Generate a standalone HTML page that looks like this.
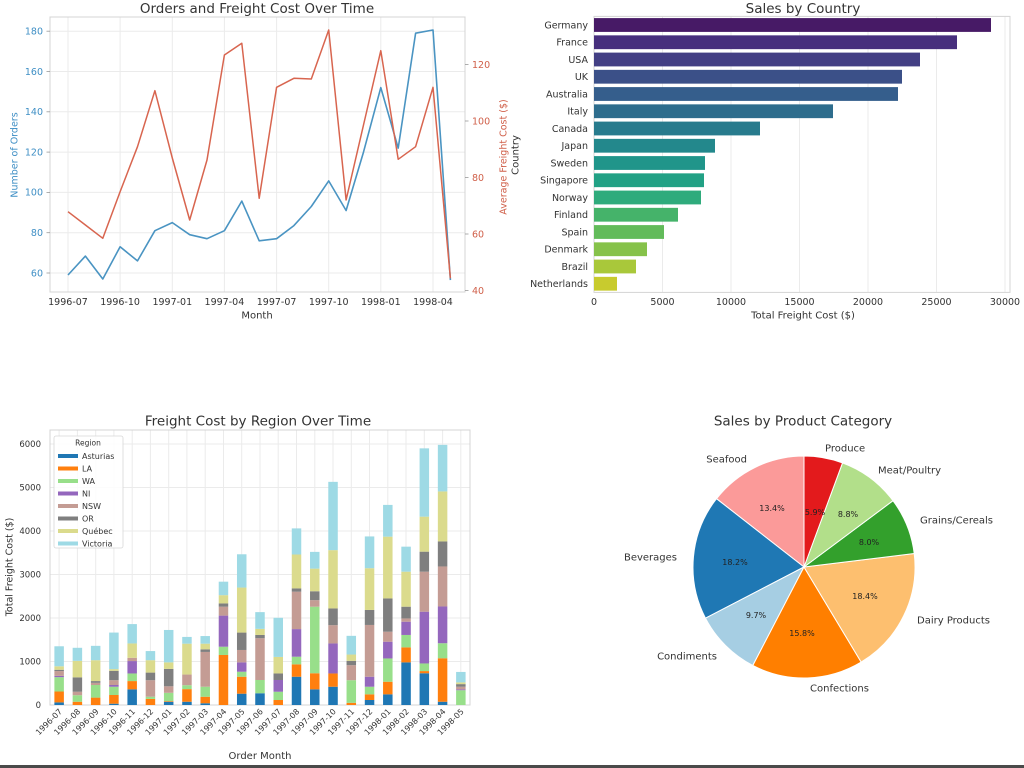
<!DOCTYPE html>
<html>
<head>
<meta charset="utf-8">
<style>
  html,body{margin:0;padding:0;background:#fff;}
  svg{display:block;}
  text{font-family:"DejaVu Sans","Liberation Sans",sans-serif;}
</style>
</head>
<body>
<svg width="1024" height="768" viewBox="0 0 1024 768" xmlns="http://www.w3.org/2000/svg">
<rect x="0" y="0" width="1024" height="768" fill="#fff"/>

<!-- ============ CHART 1: Orders and Freight Cost Over Time ============ -->
<g>
  <text x="257" y="13" font-size="13.5" text-anchor="middle" fill="#333">Orders and Freight Cost Over Time</text>
  <g stroke="#ebebeb" stroke-width="1">
    <line x1="50" x2="465" y1="31.2" y2="31.2"/>
    <line x1="50" x2="465" y1="71.5" y2="71.5"/>
    <line x1="50" x2="465" y1="111.8" y2="111.8"/>
    <line x1="50" x2="465" y1="152.1" y2="152.1"/>
    <line x1="50" x2="465" y1="192.4" y2="192.4"/>
    <line x1="50" x2="465" y1="232.7" y2="232.7"/>
    <line x1="50" x2="465" y1="273" y2="273"/>
    <line y1="17" y2="292" x1="68" x2="68"/>
    <line y1="17" y2="292" x1="120.1" x2="120.1"/>
    <line y1="17" y2="292" x1="172.3" x2="172.3"/>
    <line y1="17" y2="292" x1="224.4" x2="224.4"/>
    <line y1="17" y2="292" x1="276.6" x2="276.6"/>
    <line y1="17" y2="292" x1="328.7" x2="328.7"/>
    <line y1="17" y2="292" x1="380.8" x2="380.8"/>
    <line y1="17" y2="292" x1="433" x2="433"/>
  </g>
  <rect x="50" y="17" width="415" height="275" fill="none" stroke="#d4d4d4" stroke-width="1"/>
  <g stroke="#999" stroke-width="0.8">
    <line x1="46.5" x2="50" y1="31.2" y2="31.2"/><line x1="46.5" x2="50" y1="71.5" y2="71.5"/>
    <line x1="46.5" x2="50" y1="111.8" y2="111.8"/><line x1="46.5" x2="50" y1="152.1" y2="152.1"/>
    <line x1="46.5" x2="50" y1="192.4" y2="192.4"/><line x1="46.5" x2="50" y1="232.7" y2="232.7"/>
    <line x1="46.5" x2="50" y1="273" y2="273"/>
    <line x1="465" x2="468.5" y1="64.5" y2="64.5"/><line x1="465" x2="468.5" y1="121" y2="121"/>
    <line x1="465" x2="468.5" y1="177.5" y2="177.5"/><line x1="465" x2="468.5" y1="234" y2="234"/>
    <line x1="465" x2="468.5" y1="290.5" y2="290.5"/>
  </g>
  <g font-size="9.5" fill="#3f8fc5" text-anchor="end">
    <text x="43" y="34.5">180</text>
    <text x="43" y="74.8">160</text>
    <text x="43" y="115.1">140</text>
    <text x="43" y="155.4">120</text>
    <text x="43" y="195.7">100</text>
    <text x="43" y="236">80</text>
    <text x="43" y="276.3">60</text>
  </g>
  <g font-size="9.5" fill="#d0604a" text-anchor="start">
    <text x="472" y="67.8">120</text>
    <text x="472" y="124.3">100</text>
    <text x="472" y="180.8">80</text>
    <text x="472" y="237.3">60</text>
    <text x="472" y="293.8">40</text>
  </g>
  <g font-size="9.5" fill="#333" text-anchor="middle">
    <text x="68" y="305">1996-07</text>
    <text x="120.1" y="305">1996-10</text>
    <text x="172.3" y="305">1997-01</text>
    <text x="224.4" y="305">1997-04</text>
    <text x="276.6" y="305">1997-07</text>
    <text x="328.7" y="305">1997-10</text>
    <text x="380.8" y="305">1998-01</text>
    <text x="433" y="305">1998-04</text>
  </g>
  <text x="257" y="318.5" font-size="10" text-anchor="middle" fill="#333">Month</text>
  <text transform="translate(14,155) rotate(-90)" y="3.5" font-size="9.5" text-anchor="middle" fill="#3f8fc5">Number of Orders</text>
  <text transform="translate(503,157) rotate(-90)" y="3.5" font-size="9.5" text-anchor="middle" fill="#d0604a">Average Freight Cost ($)</text>
  <polyline fill="none" stroke="#4a94c2" stroke-width="1.6" stroke-linejoin="round"
    points="68,275 85.4,256.1 102.8,279 120.1,246.8 137.5,260.9 154.9,230.7 172.3,222.6 189.7,234.7 207,238.7 224.4,230.7 241.8,201.1 259.2,240.8 276.6,238.7 293.9,225.6 311.3,206.5 328.7,180.9 346.1,210.5 363.5,152.1 380.8,87.6 398.2,148.1 415.6,33.2 433,30 450.4,280.1"/>
  <polyline fill="none" stroke="#d8654f" stroke-width="1.5" stroke-linejoin="round"
    points="68,211.7 85.4,225 102.8,238.3 120.1,191.7 137.5,146.7 154.9,90.7 172.3,158 189.7,220 207,160 224.4,55 241.8,43.3 259.2,198.3 276.6,87.3 293.9,78.3 311.3,79 328.7,30 346.1,200 363.5,125 380.8,50.7 398.2,159.3 415.6,146.7 433,87.3 450.4,278.3"/>
</g>

<!-- ============ CHART 2: Sales by Country ============ -->
<g>
  <text x="803" y="13" font-size="13.5" text-anchor="middle" fill="#333">Sales by Country</text>
  <g stroke="#ebebeb" stroke-width="1">
    <line x1="662.5" x2="662.5" y1="16.4" y2="292.4"/>
    <line x1="731" x2="731" y1="16.4" y2="292.4"/>
    <line x1="799.5" x2="799.5" y1="16.4" y2="292.4"/>
    <line x1="868" x2="868" y1="16.4" y2="292.4"/>
    <line x1="936.5" x2="936.5" y1="16.4" y2="292.4"/>
    <line x1="1005" x2="1005" y1="16.4" y2="292.4"/>
  </g>
  <rect x="594" y="16.4" width="416" height="276" fill="none" stroke="#d4d4d4" stroke-width="1"/>
  <g>
    <rect x="594" y="18.1" width="397" height="13.8" fill="#471a66"/>
    <rect x="594" y="35.35" width="363" height="13.8" fill="#472f7d"/>
    <rect x="594" y="52.6" width="326" height="13.8" fill="#433f84"/>
    <rect x="594" y="69.85" width="308" height="13.8" fill="#3b5088"/>
    <rect x="594" y="87.1" width="304" height="13.8" fill="#355e8c"/>
    <rect x="594" y="104.35" width="239" height="13.8" fill="#2e6d8d"/>
    <rect x="594" y="121.6" width="166" height="13.8" fill="#287b8d"/>
    <rect x="594" y="138.85" width="121" height="13.8" fill="#23888c"/>
    <rect x="594" y="156.1" width="111" height="13.8" fill="#20958a"/>
    <rect x="594" y="173.35" width="110" height="13.8" fill="#22a185"/>
    <rect x="594" y="190.6" width="107" height="13.8" fill="#2fab7c"/>
    <rect x="594" y="207.85" width="84" height="13.8" fill="#45b36a"/>
    <rect x="594" y="225.1" width="70" height="13.8" fill="#62bb5a"/>
    <rect x="594" y="242.35" width="53" height="13.8" fill="#86c24a"/>
    <rect x="594" y="259.6" width="42" height="13.8" fill="#a9c83a"/>
    <rect x="594" y="276.85" width="23" height="13.8" fill="#c8cb2e"/>
  </g>
  <g font-size="9.5" fill="#333" text-anchor="end">
    <text x="588" y="28.3">Germany</text>
    <text x="588" y="45.6">France</text>
    <text x="588" y="62.8">USA</text>
    <text x="588" y="80.1">UK</text>
    <text x="588" y="97.3">Australia</text>
    <text x="588" y="114.6">Italy</text>
    <text x="588" y="131.8">Canada</text>
    <text x="588" y="149.1">Japan</text>
    <text x="588" y="166.3">Sweden</text>
    <text x="588" y="183.6">Singapore</text>
    <text x="588" y="200.8">Norway</text>
    <text x="588" y="218.1">Finland</text>
    <text x="588" y="235.3">Spain</text>
    <text x="588" y="252.6">Denmark</text>
    <text x="588" y="269.8">Brazil</text>
    <text x="588" y="287.1">Netherlands</text>
  </g>
  <g font-size="9.5" fill="#333" text-anchor="middle">
    <text x="594" y="305">0</text>
    <text x="662.5" y="305">5000</text>
    <text x="731" y="305">10000</text>
    <text x="799.5" y="305">15000</text>
    <text x="868" y="305">20000</text>
    <text x="936.5" y="305">25000</text>
    <text x="1005" y="305">30000</text>
  </g>
  <text x="803" y="318.5" font-size="10" text-anchor="middle" fill="#333">Total Freight Cost ($)</text>
  <text transform="translate(515,155) rotate(-90)" y="3.5" font-size="10" text-anchor="middle" fill="#333">Country</text>
</g>

<!-- ============ CHART 3: Freight Cost by Region Over Time ============ -->
<g>
  <text x="258" y="425.5" font-size="13.5" text-anchor="middle" fill="#333">Freight Cost by Region Over Time</text>
  <g stroke="#ebebeb" stroke-width="1">
    <line x1="50" x2="470" y1="661.5" y2="661.5"/>
    <line x1="50" x2="470" y1="618" y2="618"/>
    <line x1="50" x2="470" y1="574.5" y2="574.5"/>
    <line x1="50" x2="470" y1="531" y2="531"/>
    <line x1="50" x2="470" y1="487.5" y2="487.5"/>
    <line x1="50" x2="470" y1="444" y2="444"/>
    <line y1="430" y2="705" x1="59.1" x2="59.1"/><line y1="430" y2="705" x1="77.4" x2="77.4"/>
    <line y1="430" y2="705" x1="95.7" x2="95.7"/><line y1="430" y2="705" x1="113.9" x2="113.9"/>
    <line y1="430" y2="705" x1="132.2" x2="132.2"/><line y1="430" y2="705" x1="150.4" x2="150.4"/>
    <line y1="430" y2="705" x1="168.7" x2="168.7"/><line y1="430" y2="705" x1="186.9" x2="186.9"/>
    <line y1="430" y2="705" x1="205.2" x2="205.2"/><line y1="430" y2="705" x1="223.5" x2="223.5"/>
    <line y1="430" y2="705" x1="241.7" x2="241.7"/><line y1="430" y2="705" x1="260" x2="260"/>
    <line y1="430" y2="705" x1="278.2" x2="278.2"/><line y1="430" y2="705" x1="296.5" x2="296.5"/>
    <line y1="430" y2="705" x1="314.8" x2="314.8"/><line y1="430" y2="705" x1="333" x2="333"/>
    <line y1="430" y2="705" x1="351.3" x2="351.3"/><line y1="430" y2="705" x1="369.5" x2="369.5"/>
    <line y1="430" y2="705" x1="387.8" x2="387.8"/><line y1="430" y2="705" x1="406" x2="406"/>
    <line y1="430" y2="705" x1="424.3" x2="424.3"/><line y1="430" y2="705" x1="442.6" x2="442.6"/>
    <line y1="430" y2="705" x1="460.8" x2="460.8"/>
  </g>
  <rect x="50" y="430" width="420" height="275" fill="none" stroke="#d4d4d4" stroke-width="1"/>

  <g transform="translate(59.13,705) scale(18.26,-0.0435)">
    <g fill="#1f77b4">
      <rect x="-0.26" y="0" width="0.52" height="60"/>
      <rect x="2.74" y="0" width="0.52" height="30"/>
      <rect x="3.74" y="0" width="0.52" height="360"/>
      <rect x="5.74" y="0" width="0.52" height="75"/>
      <rect x="6.74" y="0" width="0.52" height="75"/>
      <rect x="7.74" y="0" width="0.52" height="40"/>
      <rect x="9.74" y="0" width="0.52" height="260"/>
      <rect x="10.74" y="0" width="0.52" height="270"/>
      <rect x="12.74" y="0" width="0.52" height="650"/>
      <rect x="13.74" y="0" width="0.52" height="360"/>
      <rect x="14.74" y="0" width="0.52" height="420"/>
      <rect x="16.74" y="0" width="0.52" height="115"/>
      <rect x="17.74" y="0" width="0.52" height="245"/>
      <rect x="18.74" y="0" width="0.52" height="980"/>
      <rect x="19.74" y="0" width="0.52" height="730"/>
      <rect x="20.74" y="0" width="0.52" height="75"/>
    </g>
    <g fill="#ff7f0e">
      <rect x="-0.26" y="60" width="0.52" height="250"/>
      <rect x="0.74" y="0" width="0.52" height="75"/>
      <rect x="1.74" y="0" width="0.52" height="170"/>
      <rect x="2.74" y="30" width="0.52" height="200"/>
      <rect x="3.74" y="360" width="0.52" height="190"/>
      <rect x="4.74" y="0" width="0.52" height="140"/>
      <rect x="5.74" y="75" width="0.52" height="15"/>
      <rect x="6.74" y="75" width="0.52" height="290"/>
      <rect x="7.74" y="40" width="0.52" height="150"/>
      <rect x="8.74" y="0" width="0.52" height="1150"/>
      <rect x="9.74" y="260" width="0.52" height="390"/>
      <rect x="11.74" y="0" width="0.52" height="115"/>
      <rect x="12.74" y="650" width="0.52" height="285"/>
      <rect x="13.74" y="360" width="0.52" height="370"/>
      <rect x="14.74" y="420" width="0.52" height="305"/>
      <rect x="15.74" y="0" width="0.52" height="50"/>
      <rect x="16.74" y="115" width="0.52" height="130"/>
      <rect x="17.74" y="245" width="0.52" height="290"/>
      <rect x="18.74" y="980" width="0.52" height="345"/>
      <rect x="19.74" y="730" width="0.52" height="50"/>
      <rect x="20.74" y="75" width="0.52" height="1000"/>
    </g>
    <g fill="#98df8a">
      <rect x="-0.26" y="310" width="0.52" height="330"/>
      <rect x="0.74" y="75" width="0.52" height="150"/>
      <rect x="1.74" y="170" width="0.52" height="290"/>
      <rect x="2.74" y="230" width="0.52" height="190"/>
      <rect x="3.74" y="550" width="0.52" height="175"/>
      <rect x="4.74" y="140" width="0.52" height="50"/>
      <rect x="5.74" y="90" width="0.52" height="190"/>
      <rect x="6.74" y="365" width="0.52" height="90"/>
      <rect x="7.74" y="190" width="0.52" height="230"/>
      <rect x="8.74" y="1150" width="0.52" height="190"/>
      <rect x="9.74" y="650" width="0.52" height="115"/>
      <rect x="10.74" y="270" width="0.52" height="305"/>
      <rect x="11.74" y="115" width="0.52" height="190"/>
      <rect x="12.74" y="935" width="0.52" height="175"/>
      <rect x="13.74" y="730" width="0.52" height="1530"/>
      <rect x="15.74" y="50" width="0.52" height="520"/>
      <rect x="16.74" y="245" width="0.52" height="175"/>
      <rect x="17.74" y="535" width="0.52" height="535"/>
      <rect x="18.74" y="1325" width="0.52" height="285"/>
      <rect x="19.74" y="780" width="0.52" height="175"/>
      <rect x="20.74" y="1075" width="0.52" height="345"/>
      <rect x="21.74" y="0" width="0.52" height="340"/>
    </g>
    <g fill="#9467bd">
      <rect x="-0.26" y="640" width="0.52" height="30"/>
      <rect x="2.74" y="420" width="0.52" height="40"/>
      <rect x="3.74" y="725" width="0.52" height="285"/>
      <rect x="8.74" y="1340" width="0.52" height="715"/>
      <rect x="9.74" y="765" width="0.52" height="215"/>
      <rect x="11.74" y="305" width="0.52" height="270"/>
      <rect x="12.74" y="1110" width="0.52" height="635"/>
      <rect x="14.74" y="725" width="0.52" height="690"/>
      <rect x="16.74" y="420" width="0.52" height="230"/>
      <rect x="17.74" y="1070" width="0.52" height="385"/>
      <rect x="18.74" y="1610" width="0.52" height="305"/>
      <rect x="19.74" y="955" width="0.52" height="1190"/>
      <rect x="20.74" y="1420" width="0.52" height="845"/>
      <rect x="21.74" y="340" width="0.52" height="20"/>
    </g>
    <g fill="#c49c94">
      <rect x="-0.26" y="670" width="0.52" height="110"/>
      <rect x="0.74" y="225" width="0.52" height="80"/>
      <rect x="1.74" y="460" width="0.52" height="50"/>
      <rect x="2.74" y="460" width="0.52" height="110"/>
      <rect x="3.74" y="1010" width="0.52" height="75"/>
      <rect x="4.74" y="190" width="0.52" height="380"/>
      <rect x="5.74" y="280" width="0.52" height="150"/>
      <rect x="6.74" y="455" width="0.52" height="245"/>
      <rect x="7.74" y="420" width="0.52" height="800"/>
      <rect x="8.74" y="2055" width="0.52" height="205"/>
      <rect x="9.74" y="980" width="0.52" height="285"/>
      <rect x="10.74" y="575" width="0.52" height="960"/>
      <rect x="12.74" y="1745" width="0.52" height="860"/>
      <rect x="13.74" y="2260" width="0.52" height="150"/>
      <rect x="14.74" y="1415" width="0.52" height="420"/>
      <rect x="15.74" y="570" width="0.52" height="345"/>
      <rect x="16.74" y="650" width="0.52" height="1190"/>
      <rect x="17.74" y="1455" width="0.52" height="230"/>
      <rect x="18.74" y="1915" width="0.52" height="75"/>
      <rect x="19.74" y="2145" width="0.52" height="920"/>
      <rect x="20.74" y="2265" width="0.52" height="920"/>
      <rect x="21.74" y="360" width="0.52" height="60"/>
    </g>
    <g fill="#7f7f7f">
      <rect x="-0.26" y="780" width="0.52" height="30"/>
      <rect x="0.74" y="305" width="0.52" height="330"/>
      <rect x="1.74" y="510" width="0.52" height="40"/>
      <rect x="2.74" y="570" width="0.52" height="215"/>
      <rect x="4.74" y="570" width="0.52" height="175"/>
      <rect x="5.74" y="430" width="0.52" height="400"/>
      <rect x="7.74" y="1220" width="0.52" height="60"/>
      <rect x="8.74" y="2260" width="0.52" height="75"/>
      <rect x="9.74" y="1265" width="0.52" height="400"/>
      <rect x="10.74" y="1535" width="0.52" height="75"/>
      <rect x="11.74" y="575" width="0.52" height="150"/>
      <rect x="12.74" y="2605" width="0.52" height="75"/>
      <rect x="13.74" y="2410" width="0.52" height="205"/>
      <rect x="14.74" y="1835" width="0.52" height="385"/>
      <rect x="15.74" y="915" width="0.52" height="100"/>
      <rect x="16.74" y="1840" width="0.52" height="345"/>
      <rect x="17.74" y="1685" width="0.52" height="765"/>
      <rect x="18.74" y="1990" width="0.52" height="270"/>
      <rect x="19.74" y="3065" width="0.52" height="460"/>
      <rect x="20.74" y="3185" width="0.52" height="575"/>
      <rect x="21.74" y="420" width="0.52" height="60"/>
    </g>
    <g fill="#dbdb8d">
      <rect x="-0.26" y="810" width="0.52" height="80"/>
      <rect x="0.74" y="635" width="0.52" height="380"/>
      <rect x="1.74" y="550" width="0.52" height="480"/>
      <rect x="2.74" y="785" width="0.52" height="40"/>
      <rect x="3.74" y="1085" width="0.52" height="330"/>
      <rect x="4.74" y="745" width="0.52" height="285"/>
      <rect x="5.74" y="830" width="0.52" height="150"/>
      <rect x="6.74" y="700" width="0.52" height="710"/>
      <rect x="7.74" y="1280" width="0.52" height="130"/>
      <rect x="8.74" y="2335" width="0.52" height="190"/>
      <rect x="9.74" y="1665" width="0.52" height="1035"/>
      <rect x="10.74" y="1610" width="0.52" height="140"/>
      <rect x="11.74" y="725" width="0.52" height="380"/>
      <rect x="12.74" y="2680" width="0.52" height="780"/>
      <rect x="13.74" y="2615" width="0.52" height="520"/>
      <rect x="14.74" y="2220" width="0.52" height="1340"/>
      <rect x="15.74" y="1015" width="0.52" height="145"/>
      <rect x="16.74" y="2185" width="0.52" height="960"/>
      <rect x="17.74" y="2450" width="0.52" height="1420"/>
      <rect x="18.74" y="2260" width="0.52" height="805"/>
      <rect x="19.74" y="3525" width="0.52" height="805"/>
      <rect x="20.74" y="3760" width="0.52" height="1150"/>
      <rect x="21.74" y="480" width="0.52" height="40"/>
    </g>
    <g fill="#9edae5">
      <rect x="-0.26" y="890" width="0.52" height="460"/>
      <rect x="0.74" y="1015" width="0.52" height="300"/>
      <rect x="1.74" y="1030" width="0.52" height="330"/>
      <rect x="2.74" y="825" width="0.52" height="840"/>
      <rect x="3.74" y="1415" width="0.52" height="445"/>
      <rect x="4.74" y="1030" width="0.52" height="210"/>
      <rect x="5.74" y="980" width="0.52" height="745"/>
      <rect x="6.74" y="1410" width="0.52" height="155"/>
      <rect x="7.74" y="1410" width="0.52" height="175"/>
      <rect x="8.74" y="2525" width="0.52" height="310"/>
      <rect x="9.74" y="2700" width="0.52" height="765"/>
      <rect x="10.74" y="1750" width="0.52" height="385"/>
      <rect x="11.74" y="1105" width="0.52" height="900"/>
      <rect x="12.74" y="3460" width="0.52" height="600"/>
      <rect x="13.74" y="3135" width="0.52" height="385"/>
      <rect x="14.74" y="3560" width="0.52" height="1570"/>
      <rect x="15.74" y="1160" width="0.52" height="430"/>
      <rect x="16.74" y="3145" width="0.52" height="730"/>
      <rect x="17.74" y="3870" width="0.52" height="730"/>
      <rect x="18.74" y="3065" width="0.52" height="575"/>
      <rect x="19.74" y="4330" width="0.52" height="1570"/>
      <rect x="20.74" y="4910" width="0.52" height="1070"/>
      <rect x="21.74" y="520" width="0.52" height="240"/>
    </g>
  </g>

  <g font-size="8.5" fill="#333" text-anchor="end">
    <text x="41" y="708">0</text>
    <text x="41" y="664.5">1000</text>
    <text x="41" y="621">2000</text>
    <text x="41" y="577.5">3000</text>
    <text x="41" y="534">4000</text>
    <text x="41" y="490.5">5000</text>
    <text x="41" y="447">6000</text>
  </g>
  <g font-size="8" fill="#333" text-anchor="end">
    <text transform="translate(62.6,712) rotate(-45)">1996-07</text>
    <text transform="translate(80.9,712) rotate(-45)">1996-08</text>
    <text transform="translate(99.2,712) rotate(-45)">1996-09</text>
    <text transform="translate(117.4,712) rotate(-45)">1996-10</text>
    <text transform="translate(135.7,712) rotate(-45)">1996-11</text>
    <text transform="translate(153.9,712) rotate(-45)">1996-12</text>
    <text transform="translate(172.2,712) rotate(-45)">1997-01</text>
    <text transform="translate(190.4,712) rotate(-45)">1997-02</text>
    <text transform="translate(208.7,712) rotate(-45)">1997-03</text>
    <text transform="translate(227,712) rotate(-45)">1997-04</text>
    <text transform="translate(245.2,712) rotate(-45)">1997-05</text>
    <text transform="translate(263.5,712) rotate(-45)">1997-06</text>
    <text transform="translate(281.7,712) rotate(-45)">1997-07</text>
    <text transform="translate(300,712) rotate(-45)">1997-08</text>
    <text transform="translate(318.3,712) rotate(-45)">1997-09</text>
    <text transform="translate(336.5,712) rotate(-45)">1997-10</text>
    <text transform="translate(354.8,712) rotate(-45)">1997-11</text>
    <text transform="translate(373,712) rotate(-45)">1997-12</text>
    <text transform="translate(391.3,712) rotate(-45)">1998-01</text>
    <text transform="translate(409.5,712) rotate(-45)">1998-02</text>
    <text transform="translate(427.8,712) rotate(-45)">1998-03</text>
    <text transform="translate(446.1,712) rotate(-45)">1998-04</text>
    <text transform="translate(464.3,712) rotate(-45)">1998-05</text>
  </g>
  <text x="260" y="759" font-size="10" text-anchor="middle" fill="#333">Order Month</text>
  <text transform="translate(9,567) rotate(-90)" y="3.3" font-size="9.5" text-anchor="middle" fill="#333">Total Freight Cost ($)</text>

  <rect x="54" y="436" width="69" height="112" rx="2" fill="#fff" fill-opacity="0.85" stroke="#d8d8d8" stroke-width="0.8"/>
  <text x="88" y="445.5" font-size="7.5" text-anchor="middle" fill="#333">Region</text>
  <g>
    <rect x="58" y="454" width="20" height="4" fill="#1f77b4"/>
    <rect x="58" y="466.5" width="20" height="4" fill="#ff7f0e"/>
    <rect x="58" y="479" width="20" height="4" fill="#98df8a"/>
    <rect x="58" y="491.5" width="20" height="4" fill="#9467bd"/>
    <rect x="58" y="504" width="20" height="4" fill="#c49c94"/>
    <rect x="58" y="516.5" width="20" height="4" fill="#7f7f7f"/>
    <rect x="58" y="529" width="20" height="4" fill="#dbdb8d"/>
    <rect x="58" y="541.5" width="20" height="4" fill="#9edae5"/>
  </g>
  <g font-size="8" fill="#333">
    <text x="82" y="459">Asturias</text>
    <text x="82" y="471.5">LA</text>
    <text x="82" y="484">WA</text>
    <text x="82" y="496.5">NI</text>
    <text x="82" y="509">NSW</text>
    <text x="82" y="521.5">OR</text>
    <text x="82" y="534">Québec</text>
    <text x="82" y="546.5">Victoria</text>
  </g>
</g>

<!-- ============ CHART 4: Sales by Product Category ============ -->
<g>
  <text x="803" y="425.5" font-size="13.5" text-anchor="middle" fill="#333">Sales by Product Category</text>
  <g stroke="#fff" stroke-width="1" stroke-linejoin="round">
    <path d="M804,567 L804,456 A111,111 0 0,0 716.5,498.7 Z" fill="#fb9a99"/>
    <path d="M804,567 L716.5,498.7 A111,111 0 0,0 705.5,618.2 Z" fill="#1f78b4"/>
    <path d="M804,567 L705.5,618.2 A111,111 0 0,0 752.8,665.5 Z" fill="#a6cee3"/>
    <path d="M804,567 L752.8,665.5 A111,111 0 0,0 861.2,662.1 Z" fill="#ff7f00"/>
    <path d="M804,567 L861.2,662.1 A111,111 0 0,0 914.2,553.5 Z" fill="#fdbf6f"/>
    <path d="M804,567 L914.2,553.5 A111,111 0 0,0 893,500.7 Z" fill="#33a02c"/>
    <path d="M804,567 L893,500.7 A111,111 0 0,0 842.5,462.9 Z" fill="#b2df8a"/>
    <path d="M804,567 L842.5,462.9 A111,111 0 0,0 804,456 Z" fill="#e31a1c"/>
  </g>
  <g font-size="8" fill="#222" text-anchor="middle">
    <text x="772" y="511">13.4%</text>
    <text x="735" y="565">18.2%</text>
    <text x="756" y="618">9.7%</text>
    <text x="802" y="636">15.8%</text>
    <text x="865" y="599">18.4%</text>
    <text x="869" y="545">8.0%</text>
    <text x="848" y="517">8.8%</text>
    <text x="815" y="515">5.9%</text>
  </g>
  <g font-size="10" fill="#333">
    <text x="747" y="462.5" text-anchor="end">Seafood</text>
    <text x="825" y="451.5" text-anchor="start">Produce</text>
    <text x="878" y="473.5" text-anchor="start">Meat/Poultry</text>
    <text x="920" y="523.5" text-anchor="start">Grains/Cereals</text>
    <text x="917" y="623.5" text-anchor="start">Dairy Products</text>
    <text x="810" y="691.5" text-anchor="start">Confections</text>
    <text x="717" y="659.5" text-anchor="end">Condiments</text>
    <text x="677" y="560.5" text-anchor="end">Beverages</text>
  </g>
</g>

<rect x="0" y="765" width="1024" height="3" fill="#4a4a4a"/>
</svg>
</body>
</html>
